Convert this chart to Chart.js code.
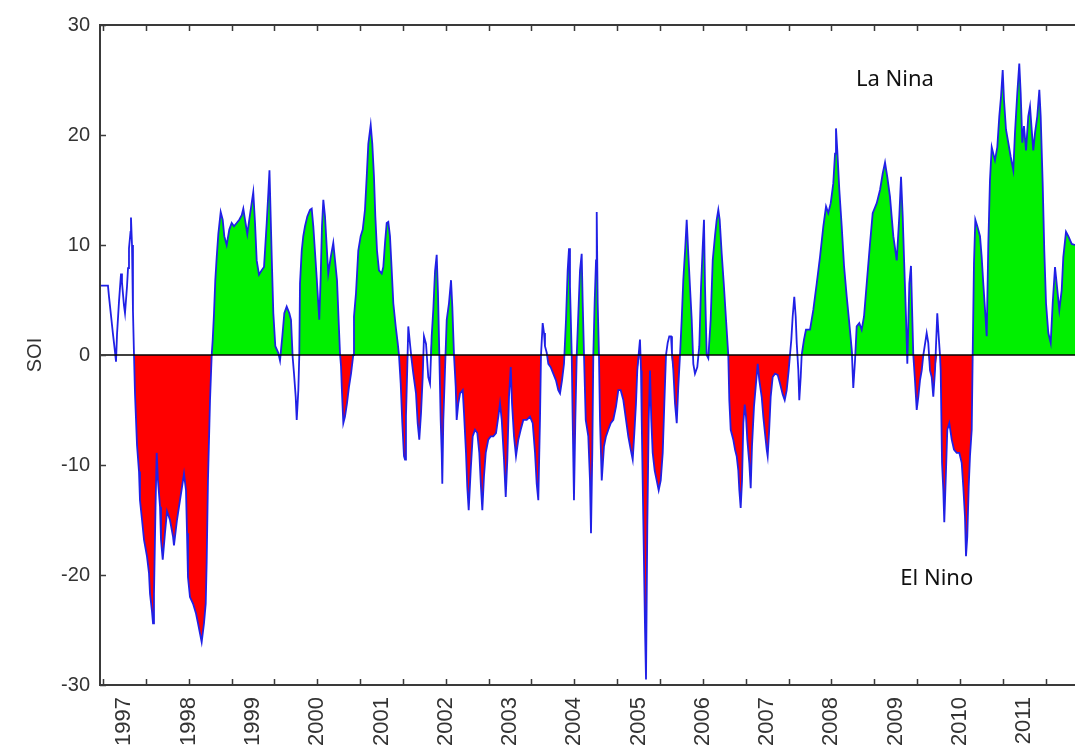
<!DOCTYPE html>
<html>
<head>
<meta charset="utf-8">
<script src="https://cdn.jsdelivr.net/npm/chart.js@4.4.1/dist/chart.umd.min.js"></script>
<style>
    html, body { margin: 0; padding: 0; background: #fff; }
    #wrap { width: 1075px; height: 749px; overflow: hidden; position: relative; }
    #soiChart { position: absolute; left: 0; top: 0; }
</style>
</head>
<body>
<div id="wrap"><canvas id="soiChart" width="1120" height="770"></canvas></div>
<script>
// SOI series: time in decimal years, value in SOI units
var soiTime = [
    1996.620, 1996.744, 1996.760, 1996.791, 1996.822, 1996.853, 1996.869, 1996.885, 1996.916, 1996.947, 1996.962, 1996.993, 1997.009, 1997.040, 1997.056, 1997.071, 1997.095, 1997.102, 1997.118, 1997.133, 1997.149,
    1997.165, 1997.196, 1997.227, 1997.242, 1997.274, 1997.305, 1997.351, 1997.382, 1997.398, 1997.429, 1997.445, 1997.460, 1997.484, 1997.502, 1997.522, 1997.554, 1997.569, 1997.596, 1997.631, 1997.663, 1997.709, 1997.756, 1997.771, 1997.818, 1997.849, 1997.896, 1997.927, 1997.958, 1997.974, 1997.989, 1998.020, 1998.067, 1998.114, 1998.145, 1998.202, 1998.238, 1998.265, 1998.280, 1998.300, 1998.332, 1998.358,
    1998.374, 1998.394, 1998.414, 1998.436, 1998.461, 1998.498, 1998.529, 1998.554, 1998.591, 1998.632, 1998.669, 1998.705, 1998.747, 1998.787, 1998.825, 1998.850, 1998.876, 1998.912, 1998.943, 1998.980, 1999.005, 1999.032, 1999.058, 1999.094, 1999.136, 1999.172, 1999.214, 1999.239, 1999.257, 1999.292, 1999.317, 1999.348, 1999.394, 1999.421, 1999.457, 1999.488, 1999.525, 1999.566, 1999.592, 1999.618, 1999.639, 1999.665, 1999.681, 1999.706, 1999.721,
    1999.732, 1999.759, 1999.783, 1999.810, 1999.846, 1999.888, 1999.914, 1999.939, 1999.992, 2000.032, 2000.054, 2000.074, 2000.095, 2000.121, 2000.148, 2000.172, 2000.210, 2000.250, 2000.277, 2000.308, 2000.334, 2000.354,
    2000.370, 2000.386, 2000.406, 2000.432, 2000.463, 2000.494, 2000.526, 2000.561,
    2000.572, 2000.603, 2000.639, 2000.676, 2000.708, 2000.743, 2000.770, 2000.795, 2000.832, 2000.857, 2000.883, 2000.904, 2000.930, 2000.961, 2001.003, 2001.028, 2001.055, 2001.081, 2001.106, 2001.132, 2001.159, 2001.184, 2001.221, 2001.252, 2001.272,
    2001.299, 2001.324, 2001.350, 2001.366, 2001.381, 2001.402, 2001.417, 2001.444, 2001.470, 2001.495, 2001.537, 2001.563, 2001.588, 2001.615, 2001.641, 2001.661, 2001.693, 2001.728, 2001.755, 2001.781, 2001.806, 2001.833, 2001.859, 2001.879, 2001.900, 2001.921, 2001.937, 2001.946, 2001.962, 2001.988, 2002.015, 2002.050, 2002.082, 2002.102, 2002.128,
    2002.155, 2002.170, 2002.195, 2002.222, 2002.264, 2002.284, 2002.315, 2002.335, 2002.357, 2002.388, 2002.419, 2002.455, 2002.491, 2002.522, 2002.548, 2002.569, 2002.595, 2002.622, 2002.662, 2002.699, 2002.740, 2002.782, 2002.818, 2002.844, 2002.871, 2002.906, 2002.933, 2002.958, 2002.984, 2003.011, 2003.031, 2003.062, 2003.093, 2003.129, 2003.166, 2003.207, 2003.260, 2003.311, 2003.353, 2003.389, 2003.415, 2003.440, 2003.466, 2003.482,
    2003.508, 2003.529, 2003.544, 2003.571, 2003.596, 2003.633, 2003.673, 2003.715, 2003.751, 2003.778, 2003.809, 2003.840, 2003.871, 2003.897, 2003.918, 2003.933, 2003.960, 2003.975, 2003.995, 2004.016, 2004.038, 2004.069, 2004.089, 2004.115, 2004.131, 2004.151, 2004.178, 2004.218, 2004.244, 2004.260, 2004.280, 2004.296, 2004.318, 2004.338, 2004.349, 2004.364, 2004.384, 2004.400, 2004.427, 2004.462, 2004.493, 2004.529, 2004.567, 2004.607, 2004.649, 2004.685, 2004.722, 2004.763, 2004.805, 2004.840, 2004.878, 2004.909, 2004.934, 2004.960, 2004.980, 2005.022, 2005.038, 2005.049, 2005.074, 2005.100, 2005.116, 2005.136, 2005.158, 2005.178, 2005.198, 2005.220, 2005.251, 2005.282, 2005.313, 2005.345, 2005.376, 2005.401, 2005.427, 2005.453, 2005.478, 2005.505, 2005.520, 2005.541, 2005.567, 2005.594, 2005.618, 2005.645,
    2005.671, 2005.696, 2005.727, 2005.749, 2005.774, 2005.800, 2005.827, 2005.852, 2005.878, 2005.914, 2005.945, 2005.972, 2005.998, 2006.018, 2006.034, 2006.060, 2006.085, 2006.122, 2006.154, 2006.189, 2006.216, 2006.241, 2006.262, 2006.294, 2006.329, 2006.361, 2006.396,
    2006.412, 2006.434, 2006.474, 2006.501, 2006.527, 2006.552, 2006.568, 2006.589, 2006.610, 2006.630, 2006.652, 2006.672, 2006.692, 2006.723, 2006.745, 2006.765, 2006.796, 2006.827, 2006.854, 2006.879, 2006.916, 2006.941, 2006.967, 2006.994, 2007.009, 2007.030, 2007.056, 2007.087, 2007.123, 2007.165, 2007.201, 2007.243, 2007.274, 2007.305, 2007.336, 2007.356,
    2007.377, 2007.398, 2007.423, 2007.445, 2007.461, 2007.486, 2007.501, 2007.523, 2007.538, 2007.574, 2007.605, 2007.668, 2007.719, 2007.772, 2007.823, 2007.875, 2007.917, 2007.952, 2007.990, 2008.030, 2008.057, 2008.072, 2008.092, 2008.124, 2008.161, 2008.197, 2008.239, 2008.279, 2008.317, 2008.341, 2008.368, 2008.394, 2008.435, 2008.472, 2008.508, 2008.550, 2008.601, 2008.643, 2008.706, 2008.757, 2008.799, 2008.835, 2008.870, 2008.912, 2008.964, 2009.017, 2009.057, 2009.084, 2009.110, 2009.130, 2009.161, 2009.182, 2009.213, 2009.239, 2009.259, 2009.275,
    2009.301, 2009.328, 2009.353, 2009.379, 2009.406, 2009.431, 2009.483, 2009.508, 2009.535, 2009.561, 2009.586, 2009.613, 2009.648, 2009.670, 2009.690, 2009.701, 2009.722, 2009.742, 2009.757, 2009.784, 2009.804, 2009.835, 2009.873, 2009.908, 2009.950, 2009.991, 2010.028, 2010.053, 2010.079, 2010.095, 2010.115, 2010.137, 2010.157, 2010.184, 2010.199,
    2010.219, 2010.240, 2010.271, 2010.313, 2010.339, 2010.364, 2010.391, 2010.417, 2010.442, 2010.468, 2010.495, 2010.520, 2010.546, 2010.582, 2010.613, 2010.640, 2010.666, 2010.686, 2010.717, 2010.753, 2010.791, 2010.831, 2010.857, 2010.893, 2010.924, 2010.946, 2010.971, 2010.997, 2011.029, 2011.064, 2011.091, 2011.117, 2011.142, 2011.169, 2011.204, 2011.236, 2011.257, 2011.288, 2011.313, 2011.340, 2011.376, 2011.413, 2011.444, 2011.480, 2011.506, 2011.547, 2011.584, 2011.609, 2011.651, 2011.687, 2011.740, 2011.791, 2011.869
];
var soiValue = [
    6.3, 6.3, 5.3, 3.6, 1.9, 0.3, -0.6, 1.9, 4.9, 7.4, 6.6, 4.5, 3.8, 6.2, 7.9, 9.7, 11.2, 12.5, 10, 4, 0,
    -3.6, -8.2, -10.6, -13.2, -15, -16.8, -18.3, -19.8, -21.7, -23.3, -24.4, -21.7, -13.8, -8.9, -11.4, -13.8, -16.8, -18.6, -16.2, -14.2, -15, -16.5, -17.3, -15, -13.8, -12, -10.8, -12.3, -16.2, -20.2, -22, -22.6, -23.5, -24.4, -26.1, -24.4, -22.6, -18.8, -11.4, -4.1, 0,
    1.4, 3.8, 6.8, 8.9, 11, 13, 12.3, 10.8, 10, 11.4, 12, 11.7, 12, 12.3, 12.7, 13.3, 12.3, 11, 12.3, 13.8, 14.8, 12, 8.6, 7.3, 7.7, 8, 12, 14.7, 16.8, 8.9, 3.8, 0.8, 0.2, -0.5, 1.7, 3.8, 4.4, 3.8, 3.2, -0.2, -1.7, -3.8, -5.9, -3.2, 0,
    6.5, 9.5, 10.8, 11.7, 12.6, 13.2, 13.3, 11.7, 7, 3.2, 7.1, 11.7, 14.1, 12.6, 9.8, 7.4, 8.9, 10.2, 8.6, 6.8, 3, 0.2,
    -1, -3.5, -6.2, -5.6, -4.4, -2.9, -1.7, 0,
    3.5, 5.6, 9.5, 10.8, 11.4, 13.2, 16.2, 19.2, 20.9, 19.2, 16.2, 12.6, 9.5, 7.7, 7.4, 8, 10.2, 12, 12.1, 10.8, 7.7, 4.7, 2.6, 1.1, 0,
    -2.6, -6.2, -9.2, -9.5, -5.6, -1, 2.6, 1, -0.5, -1.7, -3.5, -6.2, -7.7, -5.3, -2, 1.7, 1, -2, -2.6, 1.7, 4.1, 7.6, 9.1, 5.6, 0, -5.9, -8.9, -11.7, -5.9, -1.4, 3.2, 4.7, 6.8, 4.4, 0,
    -2.9, -5.9, -4.4, -3.5, -3.2, -5.3, -8.9, -12, -14.1, -10.5, -7.4, -6.8, -7.1, -8.9, -12, -14.1, -11, -8.9, -7.7, -7.4, -7.4, -7.1, -5.6, -4.4, -5.9, -9.5, -12.9, -9.5, -3.8, -1.1, -4.4, -7.4, -9.2, -7.7, -6.8, -5.9, -5.9, -5.6, -6.2, -8.9, -11.7, -13.2, -5.9, 0,
    2.9, 2, 0.8, 0.2, -0.8, -1.1, -1.7, -2.3, -3.2, -3.5, -2.3, -0.8, 3.2, 7.7, 9.7, 6.2, 0, -5.9, -13.2, -5.9, 0, 4.7, 7.7, 9.2, 4.7, 0, -5.9, -7.4, -11.4, -16.2, -8.9, 0, 5, 8.6, 13, 4.7, 0, -5.9, -11.4, -8.3, -7.4, -6.8, -6.2, -5.9, -4.7, -3.2, -3.2, -4.1, -5.9, -7.4, -8.6, -9.5, -7.1, -4.4, -1.4, 1.4, -1.4, -5.9, -15, -24.7, -29.5, -15.6, -5.9, -1.4, -5.9, -8.9, -10.5, -11.4, -12.3, -11.4, -8.9, -4.4, 0, 1.1, 1.7, 1.7, 0.2, -1.4, -4.4, -6.2, -2.9, 0,
    3.2, 6.8, 9.8, 12.3, 9.2, 6.2, 3.2, -0.8, -1.7, -1.1, 0.8, 6.2, 9.8, 12.3, 6.2, 0, -0.3, 3.2, 8.6, 10.8, 12.3, 13.2, 12.3, 9.2, 6.2, 3.2, 0,
    -4.1, -6.8, -7.7, -8.6, -9.2, -10.5, -12.3, -13.9, -11.4, -6.2, -4.5, -5.6, -7.7, -9.8, -12.1, -8.3, -4.7, -2.6, -0.8, -2.3, -3.8, -5.6, -7.1, -8.6, -9.2, -7.1, -3.8, -2, -1.7, -1.8, -2.6, -3.6, -4.1, -3.2, -1.4, 0,
    1.4, 3.5, 5.3, 3.5, 1.1, -1.4, -4.1, -2, 0, 1.4, 2.3, 2.3, 4.1, 6.5, 8.9, 11.7, 13.5, 12.9, 13.8, 15.6, 18.3, 20.6, 18.6, 15, 11.7, 8.1, 5.3, 2.9, 0.5, -3, -0.5, 2.6, 2.9, 2.3, 3.5, 6.5, 10.1, 12.9, 13.8, 15, 16.5, 17.5, 16.2, 14.4, 10.8, 8.6, 12.6, 16.2, 12.6, 8.9, 3.5, -0.8, 6.5, 8.1, 3.5, 0,
    -2.3, -5, -3.8, -2.3, -1.4, 0, 2, 1.1, -1.4, -2, -3.8, -1.4, 3.8, 1.7, 0, -1.4, -9.8, -12.3, -15.2, -10.5, -6.8, -6.2, -7.7, -8.6, -8.9, -8.9, -9.8, -12, -14.7, -18.3, -16.5, -12, -9.2, -6.8, 0,
    8.3, 12.3, 11.7, 10.8, 8.9, 6.5, 4.1, 1.7, 10.1, 15.9, 18.9, 18.3, 17.7, 18.9, 21.7, 23.5, 25.9, 23.2, 20.5, 19.3, 18, 16.8, 20.2, 23.8, 26.5, 23.8, 19.3, 20.8, 18.6, 21.7, 22.6, 20.5, 18.6, 20.2, 21.7, 24.1, 21.7, 15.6, 9.5, 4.7, 2, 1.1, 4.7, 8, 6.5, 4.1, 5.9, 8.9, 11.2, 10.8, 10.1, 10, 9.8
];
// stretches where the original has the line but no green/red shading
var unshadedSpans = [
    [1996.60, 1997.149], [1999.61, 1999.722], [2001.41, 2001.45], [2001.65, 2001.77],
    [2003.49, 2003.58], [2005.01, 2005.03], [2005.44, 2005.53], [2005.84, 2005.95],
    [2007.37, 2007.53], [2008.33, 2008.38], [2009.17, 2009.19], [2009.47, 2009.52], [2009.64, 2009.68]
];
var yearTicks = [1997, 1998, 1999, 2000, 2001, 2002, 2003, 2004, 2005, 2006, 2007, 2008, 2009, 2010, 2011];
var soiTicks = [-30, -20, -10, 0, 10, 20, 30];
var noteText = ['La Nina', 'El Nino'];
var noteYear = [2008.99, 2009.64];
var noteSoi = [24.45, -20.9];

if (soiTime.length != soiValue.length) {
    throw new Error('length mismatch ' + soiTime.length + ' / ' + soiValue.length);
}

var xMin = 1996.62;
var xMax = 2012.18;
var axisFont = { family: '"Liberation Sans", Arial, sans-serif', size: 20 };
var yearFont = { family: '"Liberation Sans", Arial, sans-serif', size: 22 };

function isUnshaded(t) {
    for (var i = 0; i < unshadedSpans.length; i++) {
        if (t >= unshadedSpans[i][0] && t <= unshadedSpans[i][1]) return true;
    }
    return false;
}

var linePoints = [];
var shadePoints = [];
for (var i = 0; i < soiTime.length; i++) {
    linePoints.push({ x: soiTime[i], y: soiValue[i] });
    shadePoints.push({ x: soiTime[i], y: isUnshaded(soiTime[i]) ? 0 : soiValue[i] });
}

// frame, inward tick marks and the two notes
var frameAndNotes = {
    id: 'frameAndNotes',
    afterDatasetsDraw: function (chart) {
        var ctx = chart.ctx;
        var a = chart.chartArea;
        var xs = chart.scales.x;
        var ys = chart.scales.y;
        ctx.save();
        ctx.strokeStyle = '#3a3a3a';
        ctx.lineWidth = 2;
        ctx.beginPath();
        ctx.moveTo(a.right, a.top);
        ctx.lineTo(a.left, a.top);
        ctx.lineTo(a.left, a.bottom);
        ctx.lineTo(a.right, a.bottom);
        ctx.stroke();

        ctx.lineWidth = 1.5;
        ctx.beginPath();
        for (var v = 1996 + 2 / 3; v < xMax; v += 2 / 3) {
            var px = Math.round(xs.getPixelForValue(v)) + 0.5;
            ctx.moveTo(px, a.bottom);
            ctx.lineTo(px, a.bottom - 6);
            ctx.moveTo(px, a.top);
            ctx.lineTo(px, a.top + 6);
        }
        soiTicks.forEach(function (s) {
            var py = Math.round(ys.getPixelForValue(s)) + 0.5;
            ctx.moveTo(a.left, py);
            ctx.lineTo(a.left + 6, py);
        });
        ctx.stroke();

        ctx.fillStyle = '#111';
        ctx.font = '22px "Noto Sans", "Open Sans", sans-serif';
        ctx.textAlign = 'center';
        ctx.textBaseline = 'alphabetic';
        for (var n = 0; n < noteText.length; n++) {
            ctx.fillText(noteText[n], xs.getPixelForValue(noteYear[n]), ys.getPixelForValue(noteSoi[n]));
        }
        ctx.restore();
    }
};

var config = {
    type: 'line',
    data: {
        datasets: [{
            label: 'zero',
            data: [{ x: xMin, y: 0 }, { x: xMax, y: 0 }],
            borderColor: '#000',
            borderWidth: 1.6,
            pointRadius: 0,
            fill: false,
            order: 0
        }, {
            label: 'SOI',
            data: linePoints,
            borderColor: '#2020e6',
            borderWidth: 1.8,
            pointRadius: 0,
            tension: 0,
            fill: false,
            order: 1
        }, {
            label: 'shade',
            data: shadePoints,
            borderWidth: 0,
            borderColor: 'rgba(0,0,0,0)',
            pointRadius: 0,
            tension: 0,
            fill: { target: 'origin', above: '#00f000', below: '#ff0000' },
            order: 2
        }]
    },
    options: {
        responsive: false,
        animation: false,
        devicePixelRatio: 1,
        layout: { padding: { left: 0, top: 25, right: 20, bottom: 0 } },
        plugins: {
            legend: { display: false },
            tooltip: { enabled: false }
        },
        scales: {
            x: {
                type: 'linear',
                min: xMin,
                max: xMax,
                grid: { display: false, drawTicks: false },
                border: { display: false },
                afterBuildTicks: function (s) {
                    s.ticks = yearTicks.map(function (y) { return { value: y }; });
                },
                afterFit: function (s) { s.height = 85; },
                ticks: {
                    autoSkip: false,
                    minRotation: 90,
                    maxRotation: 90,
                    padding: 12,
                    color: '#333',
                    font: yearFont,
                    callback: function (v) { return String(v); }
                }
            },
            y: {
                min: -30,
                max: 30,
                grid: { display: false, drawTicks: false },
                border: { display: false },
                afterBuildTicks: function (s) {
                    s.ticks = soiTicks.map(function (v) { return { value: v }; });
                },
                afterFit: function (s) { s.width = 100; },
                ticks: { padding: 10, color: '#333', font: axisFont },
                title: {
                    display: true,
                    text: 'SOI',
                    color: '#333',
                    font: axisFont,
                    padding: { top: 23, bottom: 0 }
                }
            }
        }
    },
    plugins: [frameAndNotes]
};

var soiChart = new Chart(document.getElementById('soiChart'), config);
</script>
</body>
</html>
